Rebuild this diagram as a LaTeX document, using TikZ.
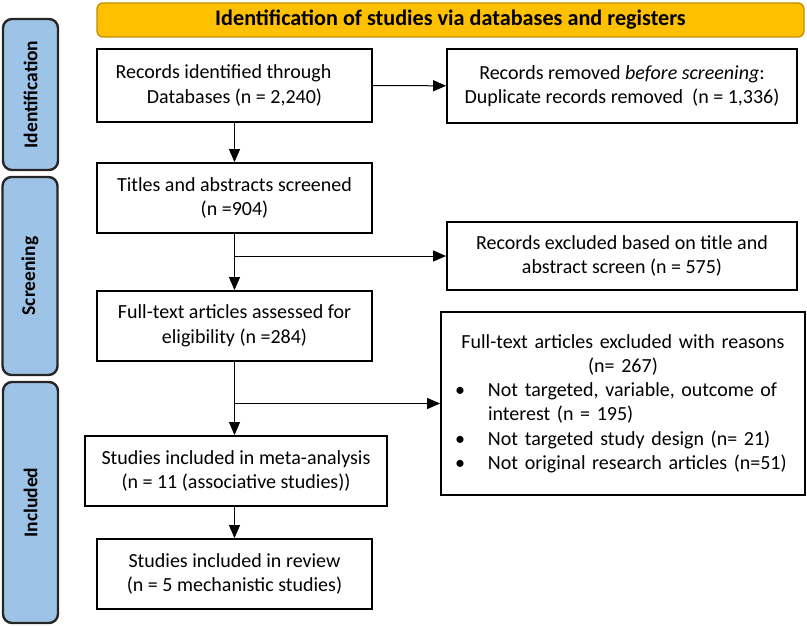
\documentclass[tikz,border=0pt]{standalone}
\usepackage{fontspec}
\setmainfont{Carlito}
\usetikzlibrary{arrows.meta, calc}

\definecolor{titlegold}{RGB}{255,192,0}
\definecolor{titleedge}{RGB}{191,144,0}
\definecolor{phaseblue}{RGB}{157,195,230}
\newcommand{\exclw}{364pt}

\begin{document}
\begin{tikzpicture}[
    x=1pt, y=-1pt,
    box/.style={draw, line width=1.8pt, fill=white, align=center, inner sep=0pt,
                font=\fontsize{20}{24.5}\selectfont},
    phase/.style={draw=black!85, line width=2.4pt, rounded corners=9pt, fill=phaseblue,
                rotate=90, minimum height=55pt, inner sep=0pt,
                font=\bfseries\fontsize{19.5}{22}\selectfont},
    banner/.style={draw=titleedge, line width=1.3pt, fill=titlegold, rounded corners=6pt,
                minimum width=707pt, minimum height=34pt, inner sep=0pt,
                font=\bfseries\fontsize{22.2}{24}\selectfont},
    arr/.style={-{Triangle[length=13pt,width=11pt]}, line width=1pt},
]
\useasboundingbox (0,0) rectangle (807,626);

% phases
\node[phase, minimum width=151pt] (ident) at (30.5,94.5) {Identification};
\node[phase, minimum width=198pt] (screen) at (30,276) {Screening};
\node[phase, minimum width=241pt] (incl) at (30.5,502.5) {Included};

\node[banner] (head) at (450.5,20) {Identification of studies via databases and registers};

% main column
\node[box, minimum width=275pt, minimum height=73pt] (records) at (234.5,85.5)
    {Records identified through\hspace*{22pt}\\ Databases (n = 2,240)};
\node[box, minimum width=275pt, minimum height=70pt] (titles) at (234.5,198)
    {Titles and abstracts screened\\ (n =904)};
\node[box, minimum width=275pt, minimum height=70pt] (fulltext) at (234.5,326)
    {Full-text articles assessed for\\ eligibility (n =284)};
\node[box, minimum width=302pt, minimum height=70pt] (meta) at (236,471)
    {Studies included in meta-analysis\\ (n = 11 (associative studies))};
\node[box, minimum width=275pt, minimum height=70pt] (review) at (234.5,574)
    {Studies included in review\\ (n = 5 mechanistic studies)};

% side column
\node[box, minimum width=350pt, minimum height=74pt] (dupl) at (622,86)
    {Records removed \textit{before screening}:\\ Duplicate records removed \ (n = 1,336)};
\node[box, minimum width=350pt, minimum height=68pt] (excl) at (622,256)
    {Records excluded based on title and\\ abstract screen (n = 575)};
\node[box, minimum width=\exclw, minimum height=183pt, text width=\exclw, align=left,
      font=\fontsize{20}{24.2}\selectfont] (ftexcl) at (623,403.5)
    {\makebox[\exclw]{Full-text articles excluded with reasons}\\
     \makebox[\exclw]{(n= 267)}\\
     \hspace*{14pt}\makebox[33pt][l]{\textbullet}Not targeted, variable, outcome of\\
     \hspace*{47pt}interest (n = 195)\\
     \hspace*{14pt}\makebox[33pt][l]{\textbullet}Not targeted study design (n= 21)\\
     \hspace*{14pt}\makebox[33pt][l]{\textbullet}Not original research articles (n=51)};

% connectors
\draw[arr] (records) -- (dupl);
\draw[arr] (records.south) -- (titles.north);
\draw[arr] (titles.south) -- (fulltext.north);
\coordinate (split1) at (titles.south |- excl.west);
\draw[arr] (split1) -- (excl.west);
\draw[arr] (fulltext.south) -- (fulltext.south |- meta.north);
\coordinate (split2) at (fulltext.south |- ftexcl.west);
\draw[arr] (split2) -- (ftexcl.west);
\draw[arr] (meta.south -| fulltext.south) -- (review.north -| fulltext.south);

\end{tikzpicture}
\end{document}
